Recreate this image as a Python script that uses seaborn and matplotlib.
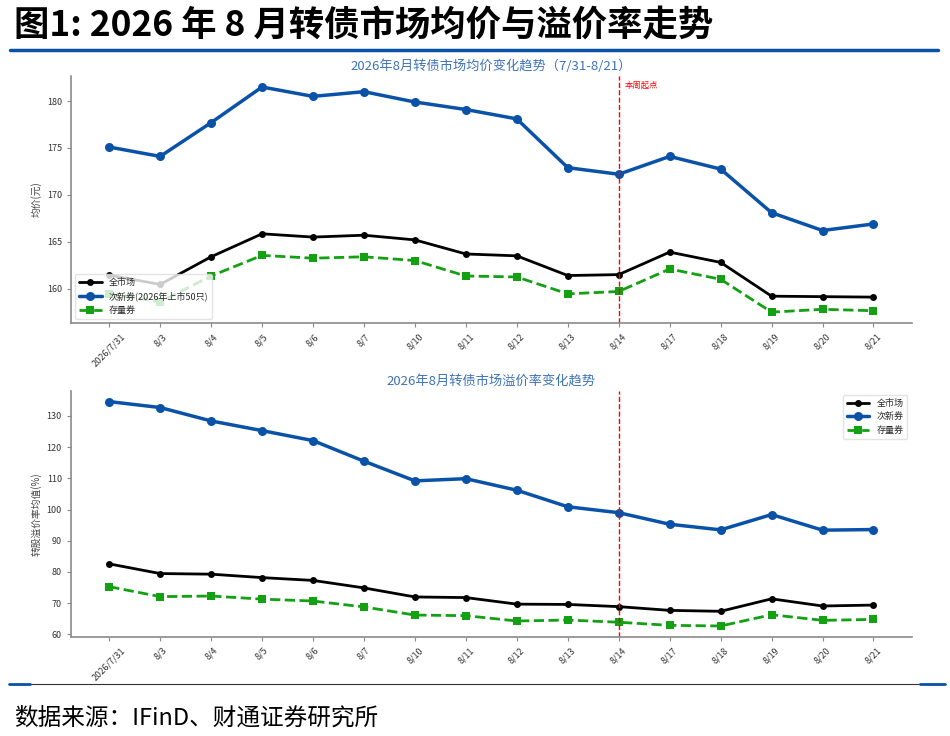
import numpy as np
import pandas as pd
import seaborn as sns
import matplotlib.pyplot as plt
from matplotlib.lines import Line2D

dates = ['2026/7/31', '8/3', '8/4', '8/5', '8/6', '8/7', '8/10', '8/11',
         '8/12', '8/13', '8/14', '8/17', '8/18', '8/19', '8/20', '8/21']

# 均价
price_all = [161.45, 160.45, 163.4, 165.85, 165.5, 165.7, 165.2, 163.7,
             163.5, 161.4, 161.5, 163.9, 162.8, 159.2, 159.15, 159.1]
price_new = [175.1, 174.1, 177.7, 181.5, 180.5, 181.0, 179.9, 179.1,
             178.1, 172.9, 172.2, 174.1, 172.75, 168.1, 166.2, 166.9]
price_old = [159.4, 158.6, 161.35, 163.55, 163.25, 163.4, 163.0, 161.35,
             161.25, 159.45, 159.7, 162.1, 161.0, 157.5, 157.8, 157.65]

# 溢价率
prem_all = [82.6, 79.5, 79.3, 78.2, 77.3, 74.9, 72.0, 71.8,
            69.7, 69.6, 68.9, 67.7, 67.4, 71.4, 69.1, 69.4]
prem_new = [134.6, 132.7, 128.4, 125.3, 122.1, 115.5, 109.2, 109.9,
            106.2, 100.9, 99.0, 95.3, 93.5, 98.4, 93.4, 93.6]
prem_old = [75.3, 72.1, 72.3, 71.3, 70.7, 68.8, 66.2, 66.0,
            64.3, 64.6, 63.9, 62.9, 62.7, 66.3, 64.5, 64.8]

week_start = '8/14'

sns.set_style('white')
plt.rcParams['font.family'] = ['Noto Sans CJK SC', 'DejaVu Sans']
plt.rcParams['axes.unicode_minus'] = False

fig = plt.figure(figsize=(9.5, 7.36), dpi=100)
ax1 = fig.add_axes([0.0747, 0.561, 0.885, 0.3357])
ax2 = fig.add_axes([0.0747, 0.1349, 0.885, 0.3343])

x = np.arange(len(dates))
blue = '#0a52a8'
green = '#13a013'
title_blue = '#3d72b8'
spine_gray = '#8a8a8a'


def draw(ax, s_all, s_new, s_old, new_label, ylabel, title, loc):
    df = pd.DataFrame({'x': x, 'all': s_all, 'new': s_new, 'old': s_old})
    sns.lineplot(data=df, x='x', y='all', ax=ax, color='black', lw=2,
                 marker='o', markersize=5, markeredgewidth=0, label='全市场')
    sns.lineplot(data=df, x='x', y='new', ax=ax, color=blue, lw=2.5,
                 marker='o', markersize=6.5, markeredgewidth=0, label=new_label)
    sns.lineplot(data=df, x='x', y='old', ax=ax, color=green, lw=2,
                 ls='--', marker='s', markersize=5.5, markeredgewidth=0,
                 label='存量券')
    ax.axvline(dates.index(week_start), color='red', ls='--', lw=1)
    ax.set_xticks(x)
    ax.set_xticklabels(dates, rotation=45, fontsize=6.5, color='#333333')
    ax.tick_params(axis='y', labelsize=6.5, labelcolor='#333333')
    ax.tick_params(axis='both', which='major', length=3, width=0.8,
                   color=spine_gray, bottom=True, left=True)
    ax.set_xlabel('')
    ax.set_ylabel(ylabel, fontsize=7, color='#444444')
    ax.set_title(title, fontsize=9.5, color=title_blue, pad=4)
    for side in ['top', 'right']:
        ax.spines[side].set_visible(False)
    for side in ['left', 'bottom']:
        ax.spines[side].set_color(spine_gray)
        ax.spines[side].set_linewidth(1.2)
    leg = ax.legend(loc=loc, fontsize=6.5, frameon=True, handlelength=2.5,
                    borderpad=0.4, labelspacing=0.5)
    leg.get_frame().set_edgecolor('#dddddd')
    leg.get_frame().set_alpha(0.8)


draw(ax1, price_all, price_new, price_old, '次新券(2026年上市50只)', '均价(元)',
     '2026年8月转债市场均价变化趋势（7/31-8/21）', 'lower left')
ax1.set_ylim(156.33, 182.67)
ax1.set_yticks([160, 165, 170, 175, 180])
ax1.text(dates.index(week_start) + 0.12, 181.4, '本周起点', color='red',
         fontsize=6)

draw(ax2, prem_all, prem_new, prem_old, '次新券', '转股溢价率均值(%)',
     '2026年8月转债市场溢价率变化趋势', 'upper right')
ax2.set_ylim(59.26, 138.1)
ax2.set_yticks([60, 70, 80, 90, 100, 110, 120, 130])

# header
fig.text(0.015, 0.966, '图1: 2026 年 8 月转债市场均价与溢价率走势',
         fontsize=25.5, fontweight='bold', color='black', va='center')
fig.add_artist(Line2D([0.011, 0.987], [0.932, 0.932], color='#0a52a8', lw=2.5))

# footer
fig.add_artist(Line2D([0.011, 0.995], [0.0707, 0.0707], color='#333333', lw=0.8))
fig.add_artist(Line2D([0.009, 0.032], [0.0707, 0.0707], color='#0a52a8', lw=2))
fig.add_artist(Line2D([0.968, 0.995], [0.0707, 0.0707], color='#0a52a8', lw=2))
fig.text(0.015, 0.024, '数据来源：IFinD、财通证券研究所', fontsize=17,
         color='black', va='center')

fig.savefig('out.png', dpi=100)
